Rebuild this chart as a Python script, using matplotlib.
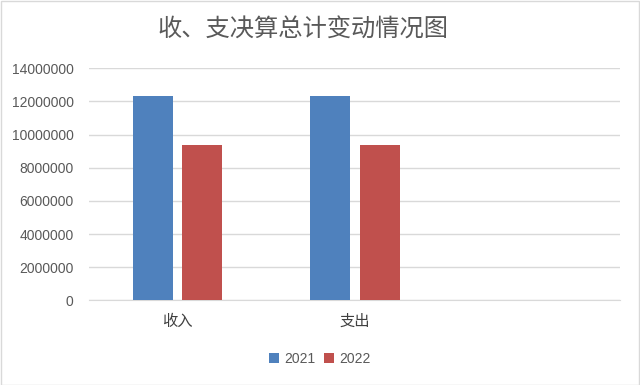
import matplotlib.pyplot as plt
from matplotlib.patches import Rectangle
import numpy as np

cjk = ['Noto Sans CJK SC', 'DejaVu Sans']
plt.rcParams['font.family'] = cjk

# data
categories = ['收入', '支出', '']
years = ['2021', '2022']
values_2021 = [12330000, 12330000, 0]
values_2022 = [9350000, 9350000, 0]
colors = ['#4f81bd', '#c0504d']

fig = plt.figure(figsize=(6.4, 3.85), dpi=100)
fig.patches.append(Rectangle((0.001, 0.001), 0.997, 0.996, transform=fig.transFigure,
                             fill=False, edgecolor='#d9d9d9', linewidth=1))
ax = fig.add_axes([0.139, 0.22, 0.83, 0.6026])

x = np.arange(len(categories))
w = 0.226
off = 0.141
ax.bar(x[:2] - off, values_2021[:2], w, color=colors[0], label=years[0], zorder=3)
ax.bar(x[:2] + off, values_2022[:2], w, color=colors[1], label=years[1], zorder=3)

ax.set_xlim(-0.5, 2.5)
ax.set_ylim(0, 14000000)
ax.set_yticks(np.arange(0, 14000001, 2000000))
ax.set_yticklabels([str(v) for v in range(0, 14000001, 2000000)],
                   family='Liberation Sans', fontsize=10, color='#595959')
ax.set_xticks(x)
ax.set_xticklabels(categories, fontsize=11, color='#404040')
ax.tick_params(axis='both', length=0)
ax.tick_params(axis='y', pad=11)
ax.tick_params(axis='x', pad=9)
ax.grid(axis='y', color='#d9d9d9', linewidth=1, zorder=0)
for s in ['top', 'right', 'left']:
    ax.spines[s].set_visible(False)
ax.spines['bottom'].set_color('#d9d9d9')

fig.text(0.474, 0.922, '收、支决算总计变动情况图', ha='center', va='center',
         fontsize=17.5, color='#595959')

leg = fig.legend(loc='center', bbox_to_anchor=(0.5, 0.068), ncol=2, frameon=False,
                 handlelength=0.7, handleheight=0.7, handletextpad=0.4, columnspacing=0.6,
                 prop={'family': 'Liberation Sans', 'size': 10})
for t in leg.get_texts():
    t.set_color('#595959')

fig.savefig('out.png', dpi=100)
